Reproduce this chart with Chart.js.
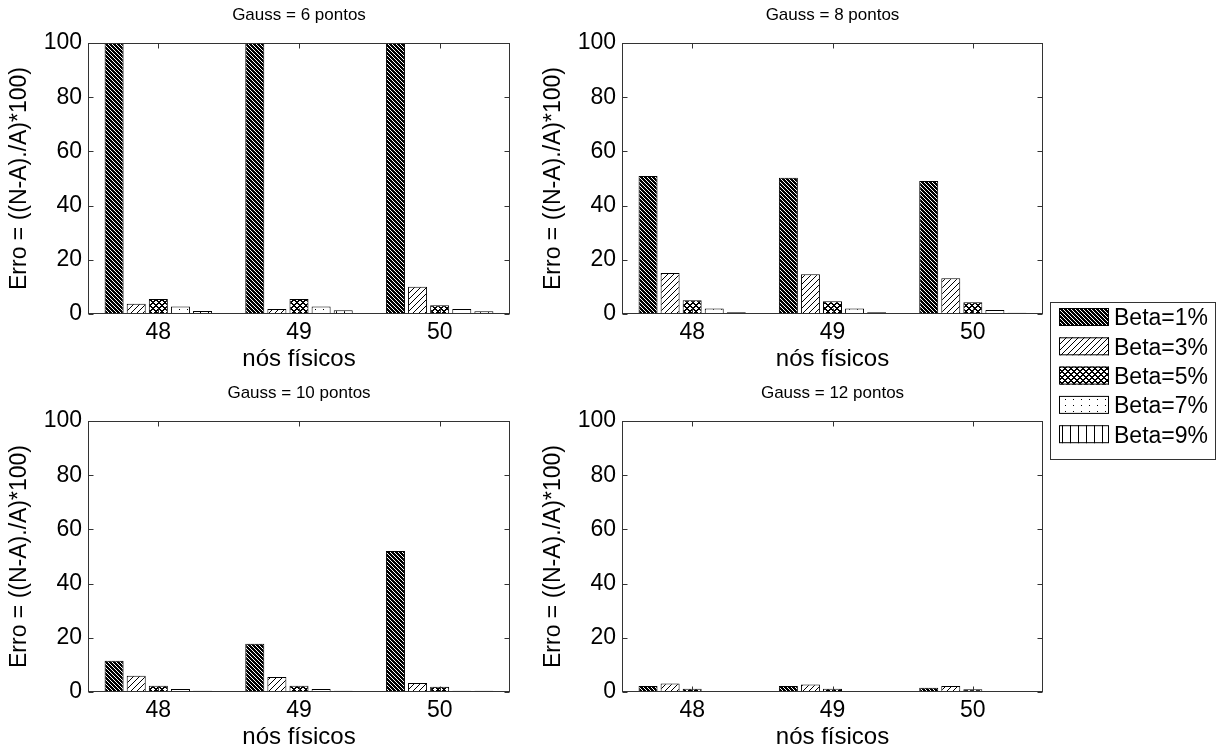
<!DOCTYPE html>
<html>
<head>
<meta charset="utf-8">
<script src="https://cdn.jsdelivr.net/npm/chart.js@4"></script>
<style>
  body { margin: 0; background: #fff; width: 1223px; height: 751px; overflow: hidden; position: relative; }
  canvas { position: absolute; }
</style>
</head>
<body>
<canvas id="g6" width="560" height="375" style="left:0;top:0"></canvas>
<canvas id="g8" width="689" height="470" style="left:534px;top:0"></canvas>
<canvas id="g10" width="560" height="375" style="left:0;top:378px"></canvas>
<canvas id="g12" width="559" height="375" style="left:534px;top:378px"></canvas>
<script>
// dados
const categories = ['48', '49', '50'];
const betaLabels = ['Beta=1%', 'Beta=3%', 'Beta=5%', 'Beta=7%', 'Beta=9%'];
const titles = ['Gauss = 6 pontos', 'Gauss = 8 pontos', 'Gauss = 10 pontos', 'Gauss = 12 pontos'];
const yTicks = [0, 20, 40, 60, 80, 100];

// uma linha por beta, uma coluna por nó
const gauss6 = [[100, 100, 100], [3.8, 1.8, 10.1], [5.5, 5.5, 3.2], [2.8, 2.8, 1.8], [1.1, 1.4, 1.0]];
const gauss8 = [[50.9, 50.3, 49.1], [15.1, 14.7, 13.2], [5.1, 4.7, 4.3], [2.0, 2.0, 1.5], [0.6, 0.6, 0.5]];
const gauss10 = [[11.5, 17.8, 52], [6.0, 5.5, 3.3], [2.3, 2.3, 1.9], [1.1, 1.1, 0.5], [0.5, 0.5, 0.5]];
const gauss12 = [[2.2, 2.2, 1.6], [3.1, 2.8, 2.2], [1.2, 1.2, 1.0], [0.4, 0.4, 0.4], [0.4, 0.4, 0.4]];

Chart.defaults.font.family = "'Liberation Sans', Arial, sans-serif";
Chart.defaults.color = '#000';

// hachuras
function makePattern(kind) {
  let w = 4, h = 4;
  if (kind == 1) { w = 6; h = 6; }
  if (kind == 2) { w = 6; h = 6; }
  if (kind == 3) { w = 8; h = 6; }
  if (kind == 4) { w = 8; h = 1; }
  const c = document.createElement('canvas');
  c.width = w; c.height = h;
  const g = c.getContext('2d');
  g.fillStyle = kind == 0 ? '#000' : '#fff';
  g.fillRect(0, 0, w, h);
  g.fillStyle = kind == 0 ? '#fff' : '#000';
  if (kind == 0) for (let i = 0; i < 4; i++) g.fillRect(i, i, 1, 1);
  if (kind == 1) for (let i = 0; i < 6; i++) g.fillRect(5 - i, i, 1, 1);
  if (kind == 2) for (let i = 0; i < 6; i++) {
    g.fillRect(i, i, 1, 1); g.fillRect((i + 1) % 6, i, 1, 1);
    g.fillRect(5 - i, i, 1, 1); g.fillRect((10 - i) % 6, i, 1, 1);
  }
  if (kind == 3) g.fillRect(3, 3, 1, 1);
  if (kind == 4) g.fillRect(0, 0, 1, 1);
  return document.createElement('canvas').getContext('2d').createPattern(c, 'repeat');
}
const patterns = [0, 1, 2, 3, 4].map(makePattern);

// caixa e marcas internas estilo matlab
const boxPlugin = {
  id: 'box',
  afterDraw(chart) {
    const ctx = chart.ctx;
    const a = chart.chartArea;
    const l = Math.round(a.left) + 0.5, r = Math.round(a.right) - 0.5;
    const t = Math.round(a.top) + 0.5, b = Math.round(a.bottom) - 0.5;
    ctx.save();
    ctx.strokeStyle = '#333';
    ctx.lineWidth = 1;
    ctx.strokeRect(l, t, r - l, b - t);
    ctx.beginPath();
    yTicks.forEach(v => {
      const py = Math.round(chart.scales.y.getPixelForValue(v)) + 0.5;
      ctx.moveTo(l, py); ctx.lineTo(l + 5, py);
      ctx.moveTo(r, py); ctx.lineTo(r - 5, py);
    });
    categories.forEach((c, i) => {
      const px = Math.round(chart.scales.x.getPixelForValue(i)) + 0.5;
      ctx.moveTo(px, b); ctx.lineTo(px, b - 5);
      ctx.moveTo(px, t); ctx.lineTo(px, t + 5);
    });
    ctx.stroke();
    ctx.restore();
  }
};

// legenda à direita
const legendPlugin = {
  id: 'sideLegend',
  afterDraw(chart) {
    const ctx = chart.ctx;
    const x0 = 1050 - 534, y0 = 302;
    ctx.save();
    ctx.fillStyle = '#fff';
    ctx.fillRect(x0, y0, 165, 157);
    ctx.strokeStyle = '#333';
    ctx.lineWidth = 1;
    ctx.strokeRect(x0 + 0.5, y0 + 0.5, 165, 157);
    ctx.font = "23px 'Liberation Sans', Arial, sans-serif";
    ctx.textBaseline = 'middle';
    chart.data.datasets.forEach((ds, i) => {
      const py = y0 + 6 + i * 29.3;
      ctx.fillStyle = ds.backgroundColor;
      ctx.fillRect(x0 + 9, py, 50, 18);
      ctx.strokeStyle = '#000';
      ctx.strokeRect(x0 + 9.5, py + 0.5, 49, 17);
      ctx.fillStyle = '#000';
      ctx.fillText(ds.label, x0 + 64, py + 11);
    });
    ctx.restore();
  }
};

function drawPanel(id, title, values, extra) {
  const plugins = [boxPlugin];
  if (extra) plugins.push(legendPlugin);
  return new Chart(document.getElementById(id), {
    type: 'bar',
    data: {
      labels: categories,
      datasets: values.map((vals, i) => ({
        label: betaLabels[i],
        data: vals,
        backgroundColor: patterns[i],
        borderColor: '#000',
        borderWidth: 1,
        borderSkipped: 'bottom',
        categoryPercentage: 0.786,
        barPercentage: 0.86
      }))
    },
    options: {
      responsive: false,
      animation: false,
      devicePixelRatio: 1,
      layout: { padding: { left: 0, right: extra ? 180 : 50, top: 0, bottom: extra ? 95 : 0 } },
      plugins: {
        legend: { display: false },
        tooltip: { enabled: false },
        title: {
          display: true,
          text: title,
          fullSize: false,
          color: '#000',
          font: { size: 17, weight: 'normal' },
          padding: { top: 5, bottom: 17.6 }
        }
      },
      scales: {
        x: {
          grid: { display: false, drawTicks: false },
          border: { display: false },
          ticks: { font: { size: 23 }, padding: 5 },
          title: { display: true, text: 'nós físicos', font: { size: 24 }, padding: { top: 0, bottom: 1 } },
          afterFit(s) { s.height = 61; }
        },
        y: {
          min: 0,
          max: 100,
          grid: { display: false, drawTicks: false },
          border: { display: false },
          afterBuildTicks(s) { s.ticks = yTicks.map(v => ({ value: v })); },
          ticks: { font: { size: 23 }, padding: 6 },
          title: { display: true, text: 'Erro = ((N-A)./A)*100)', font: { size: 23 }, padding: { top: 6, bottom: 0 } },
          afterFit(s) { s.width = 88; }
        }
      }
    },
    plugins: plugins
  });
}

drawPanel('g6', titles[0], gauss6, false);
drawPanel('g10', titles[2], gauss10, false);
drawPanel('g12', titles[3], gauss12, false);
drawPanel('g8', titles[1], gauss8, true);
</script>
</body>
</html>
